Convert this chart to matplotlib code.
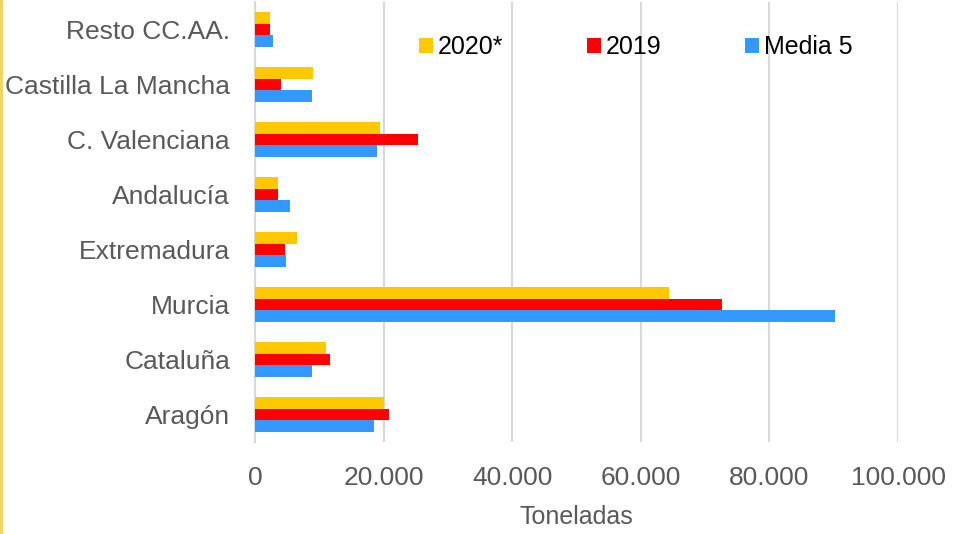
import matplotlib
matplotlib.use("Agg")
import matplotlib.pyplot as plt
import numpy as np
from matplotlib.ticker import FuncFormatter
from matplotlib.patches import Rectangle

categories = ["Aragón", "Cataluña", "Murcia", "Extremadura", "Andalucía",
              "C. Valenciana", "Castilla La Mancha", "Resto CC.AA."]
s2020 = [20100, 11100, 64400, 6500, 3500, 19400, 9000, 2300]
s2019 = [20800, 11600, 72700, 4600, 3600, 25300, 4100, 2400]
media5 = [18500, 8900, 90200, 4800, 5400, 18900, 8800, 2800]
series_names = ["2020*", "2019", "Media 5"]
xticks = [0, 20000, 40000, 60000, 80000, 100000]

colors = ["#FFC800", "#FF0000", "#3399FF"]

plt.rcParams['font.family'] = ['Liberation Sans', 'DejaVu Sans']

fig = plt.figure(figsize=(9.57, 5.34), dpi=100)
ax = fig.add_axes([255/957, 1-442/534, (898-255)/957, 440/534])

y = np.arange(len(categories))
h = 0.21
for i, (vals, name, c) in enumerate(zip([s2020, s2019, media5], series_names, colors)):
    ax.barh(y + (1 - i) * h, vals, height=h, color=c, label=name, zorder=3)

ax.set_xlim(0, 100000)
ax.set_ylim(-0.5, len(categories) - 0.5)
ax.set_xticks(xticks)
ax.xaxis.set_major_formatter(FuncFormatter(lambda v, p: f"{int(v):,}".replace(",", ".")))
ax.set_yticks(y)
ax.set_yticklabels(categories)
ax.grid(axis='x', color='#D9D9D9', linewidth=1.5, zorder=0)
for s in ['top', 'right', 'bottom']:
    ax.spines[s].set_visible(False)
ax.spines['left'].set_color('#D9D9D9')
ax.spines['left'].set_linewidth(1.5)
ax.tick_params(axis='both', length=0, colors='#595959', labelsize=19)
ax.tick_params(axis='x', pad=17)
ax.tick_params(axis='y', pad=18)
ax.set_xlabel("Toneladas", fontsize=18, color='#595959', labelpad=11)

leg = ax.legend(loc='center left', bbox_to_anchor=(0.22, 0.898), ncol=3, frameon=False,
                fontsize=18, handlelength=0.55, handleheight=0.55, handletextpad=0.2,
                columnspacing=3.35)

fig.patches.append(Rectangle((0, 0), 2/957, 1, transform=fig.transFigure,
                             color='#F2D36B', zorder=10))

fig.savefig("out.png", dpi=100)
